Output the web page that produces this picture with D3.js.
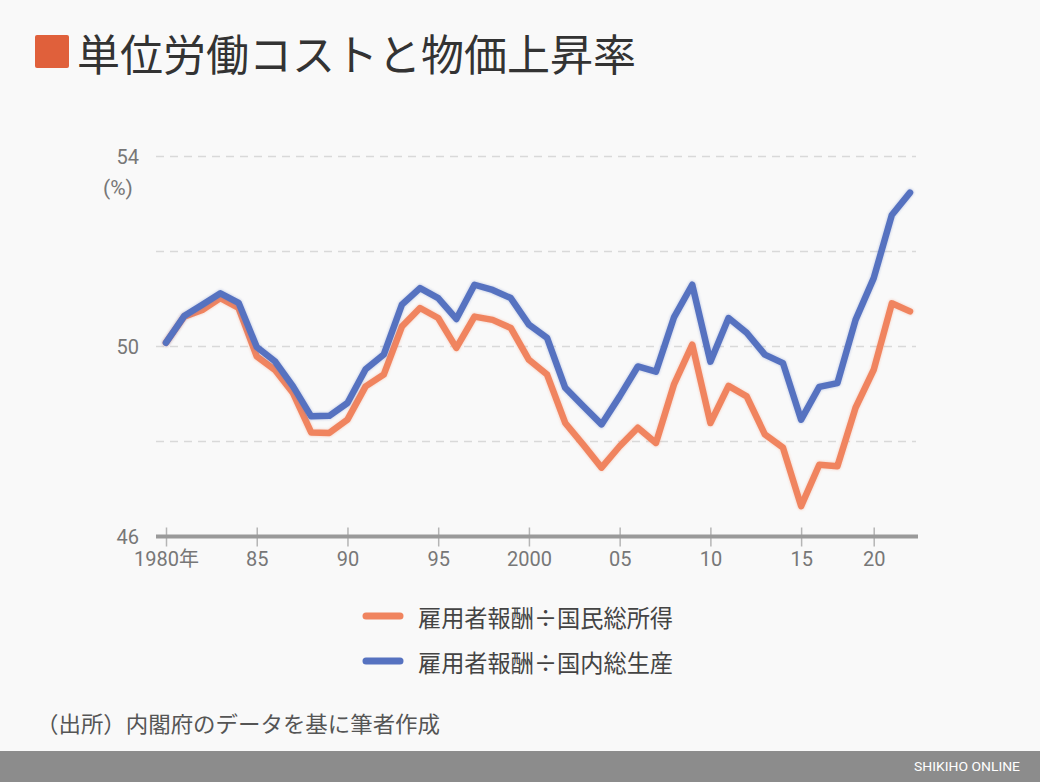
<!DOCTYPE html>
<html>
<head>
<meta charset="utf-8">
<script src="https://cdn.jsdelivr.net/npm/d3@7"></script>
<style>
  html, body { margin: 0; padding: 0; background: #f9f9f9; }
  svg { display: block; }
</style>
</head>
<body>
<svg id="chart" width="1040" height="782"></svg>
<script>
// ---- data ----
const years = d3.range(1980, 2022);
const gniSeries = [50.08, 50.63, 50.77, 51.02, 50.81, 49.79, 49.51, 49.02, 48.19, 48.18,
  48.46, 49.16, 49.41, 50.42, 50.81, 50.60, 49.97, 50.63, 50.56, 50.39,
  49.72, 49.41, 48.39, 47.93, 47.45, 47.90, 48.29, 47.97, 49.21, 50.04,
  48.39, 49.17, 48.95, 48.15, 47.87, 46.64, 47.51, 47.48, 48.71, 49.51,
  50.91, 50.74];
const gdpSeries = [50.08, 50.64, 50.88, 51.12, 50.92, 49.99, 49.69, 49.16, 48.53, 48.54,
  48.81, 49.52, 49.83, 50.88, 51.23, 51.02, 50.58, 51.30, 51.19, 51.02,
  50.46, 50.18, 49.13, 48.74, 48.36, 48.95, 49.58, 49.47, 50.62, 51.30,
  49.68, 50.60, 50.29, 49.83, 49.65, 48.46, 49.15, 49.23, 50.56, 51.44,
  52.77, 53.24];
const seriesNames = ["雇用者報酬÷国民総所得", "雇用者報酬÷国内総生産"];
const seriesColors = ["#f0845f", "#5672c0"];
const xTickYears = [1980, 1985, 1990, 1995, 2000, 2005, 2010, 2015, 2019];
const xTickLabels = ["1980年", "85", "90", "95", "2000", "05", "10", "15", "20"];
const yLabelTicks = [46, 50, 54];
const yGridTicks = [48, 50, 52, 54];

const svg = d3.select("#chart");
const CJK = "'Noto Sans CJK JP', 'Noto Sans', sans-serif";
const NUM = "Roboto, 'Noto Sans CJK JP', sans-serif";

// background
svg.append("rect").attr("width", 1040).attr("height", 782).attr("fill", "#f9f9f9");

// title
svg.append("rect").attr("x", 35).attr("y", 35).attr("width", 34).attr("height", 33)
  .attr("rx", 2).attr("fill", "#e0603b");
svg.append("text").attr("x", 77).attr("y", 52).attr("dominant-baseline", "central")
  .attr("font-family", CJK).attr("font-size", 43).attr("fill", "#333")
  .text("単位労働コストと物価上昇率");

// scales
const x = d3.scaleLinear().domain([1980, 2021]).range([166, 910]);
const y = d3.scaleLinear().domain([46, 54]).range([536.5, 156.5]);

// grid
svg.append("g").selectAll("line").data(yGridTicks).join("line")
  .attr("x1", 156).attr("x2", 916)
  .attr("y1", d => y(d)).attr("y2", d => y(d))
  .attr("stroke", "#d9d9d9").attr("stroke-width", 1.3).attr("stroke-dasharray", "8,6");

// y labels
svg.append("g").selectAll("text").data(yLabelTicks).join("text")
  .attr("x", 139).attr("y", d => y(d)).attr("text-anchor", "end")
  .attr("dominant-baseline", "central")
  .attr("font-family", NUM).attr("font-size", 20).attr("fill", "#777")
  .text(d => d);
svg.append("text").attr("x", 118).attr("y", 188).attr("text-anchor", "middle")
  .attr("dominant-baseline", "central")
  .attr("font-family", NUM).attr("font-size", 21).attr("fill", "#777").text("(%)");

// x axis
const xAxis = d3.axisBottom(x).tickValues(xTickYears)
  .tickFormat((d, i) => xTickLabels[i]).tickSize(0).tickPadding(0);
const gx = svg.append("g").attr("transform", `translate(0,${y(46)})`).call(xAxis);
gx.select(".domain").remove();
gx.append("line").attr("x1", 156).attr("x2", 918).attr("y1", 0).attr("y2", 0)
  .attr("stroke", "#9a9a9a").attr("stroke-width", 4);
gx.selectAll(".tick").append("line").attr("y1", -9).attr("y2", 10)
  .attr("stroke", "#b5b5b5").attr("stroke-width", 1.5);
gx.selectAll(".tick text").attr("y", 22).attr("dy", null).attr("dominant-baseline", "central")
  .attr("font-family", NUM).attr("font-size", 20).attr("fill", "#777");

// lines
const defs = svg.append("defs");
const f = defs.append("filter").attr("id", "soft").attr("x", "-5%").attr("y", "-5%")
  .attr("width", "110%").attr("height", "110%");
f.append("feGaussianBlur").attr("in", "SourceGraphic").attr("stdDeviation", 1.2);

const line = d3.line().x((d, i) => x(years[i])).y(d => y(d));
[gniSeries, gdpSeries].forEach((s, k) => {
  svg.append("path").datum(s).attr("d", line).attr("fill", "none")
    .attr("stroke", seriesColors[k]).attr("stroke-width", 8).attr("opacity", 0.25)
    .attr("stroke-linejoin", "round").attr("stroke-linecap", "round")
    .attr("filter", "url(#soft)");
  svg.append("path").datum(s).attr("d", line).attr("fill", "none")
    .attr("stroke", seriesColors[k]).attr("stroke-width", 6.5)
    .attr("stroke-linejoin", "round").attr("stroke-linecap", "round");
});

// legend
const legY = [616, 661];
seriesNames.forEach((name, k) => {
  svg.append("line").attr("x1", 366).attr("x2", 400).attr("y1", legY[k]).attr("y2", legY[k])
    .attr("stroke", seriesColors[k]).attr("stroke-width", 7).attr("stroke-linecap", "round");
  svg.append("text").attr("x", 418).attr("y", legY[k]).attr("dominant-baseline", "central")
    .attr("font-family", CJK).attr("font-size", 24).attr("fill", "#444")
    .attr("textLength", 255).attr("lengthAdjust", "spacingAndGlyphs").text(name);
});

// source
svg.append("text").attr("x", 36).attr("y", 722).attr("dominant-baseline", "central")
  .attr("font-family", CJK).attr("font-size", 22).attr("fill", "#555")
  .attr("textLength", 404).attr("lengthAdjust", "spacingAndGlyphs")
  .text("（出所）内閣府のデータを基に筆者作成");

// footer bar
svg.append("rect").attr("x", 0).attr("y", 751).attr("width", 1040).attr("height", 31)
  .attr("fill", "#8c8c8c");
svg.append("text").attr("x", 1020).attr("y", 766.5).attr("text-anchor", "end")
  .attr("dominant-baseline", "central")
  .attr("font-family", "Roboto, sans-serif").attr("font-size", 13).attr("fill", "#fff")
  .attr("textLength", 106).attr("lengthAdjust", "spacingAndGlyphs")
  .text("SHIKIHO ONLINE");
</script>
</body>
</html>
